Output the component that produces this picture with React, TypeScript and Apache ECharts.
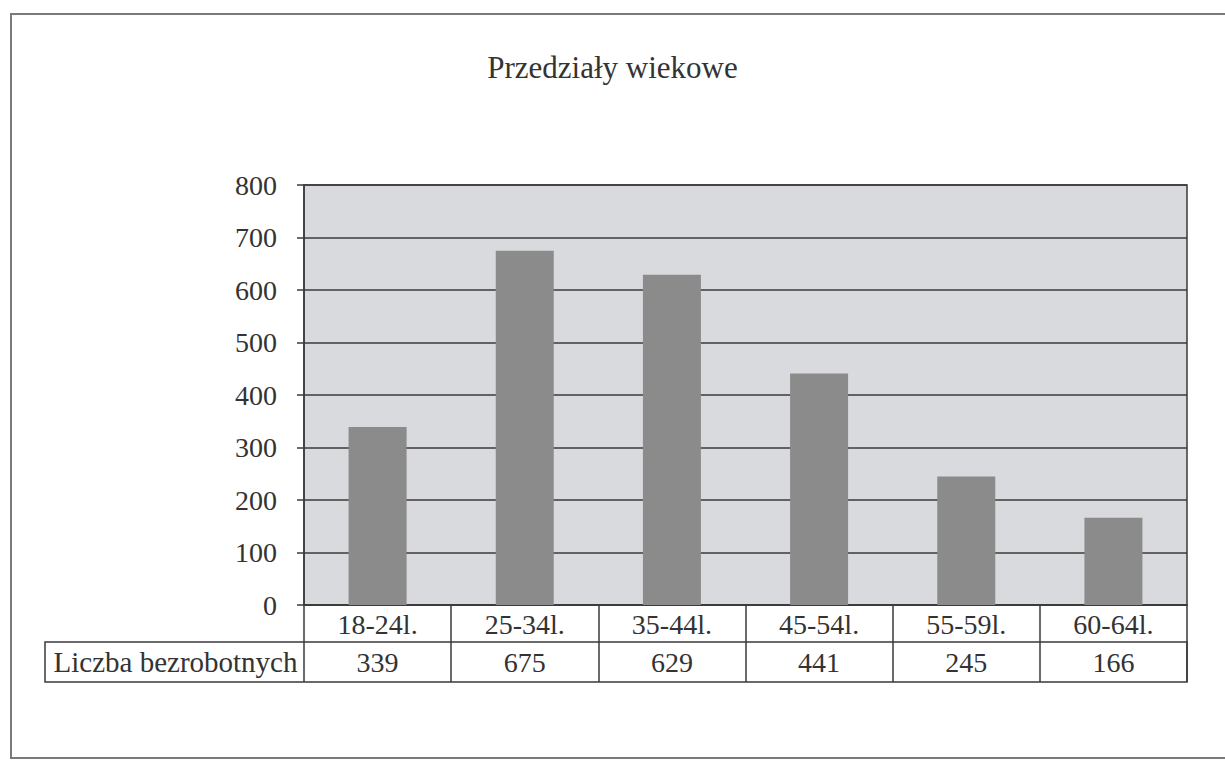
import React, { useEffect, useRef } from "react";
import * as echarts from "echarts";

const TITLE = "Przedziały wiekowe";
const SERIES_NAME = "Liczba bezrobotnych";
const CATEGORIES = ["18-24l.", "25-34l.", "35-44l.", "45-54l.", "55-59l.", "60-64l."];
const VALUES = [339, 675, 629, 441, 245, 166];
const Y_MIN = 0;
const Y_MAX = 800;
const Y_STEP = 100;

const FONT = '"Liberation Serif", "Times New Roman", "DejaVu Serif", serif';
const TEXT = "#333";
const LINE = "#3a3a3a";

export default function App() {
  const ref = useRef<HTMLDivElement>(null);
  useEffect(() => {
    if (!ref.current) return;
    const chart = echarts.init(ref.current, undefined, { renderer: "svg" });
    const gridLeft = 304;
    const gridRight = 1225 - 1187;
    const gridTop = 185;
    const gridBottom = 761 - 605;
    chart.setOption({
      animation: false,
      backgroundColor: "#ffffff",
      title: {
        text: TITLE,
        left: "center",
        top: 47,
        textStyle: { fontFamily: FONT, fontSize: 31, fontWeight: "normal", color: TEXT },
      },
      grid: {
        left: gridLeft,
        right: gridRight,
        top: gridTop,
        bottom: gridBottom,
        show: true,
        backgroundColor: "#d9dadd",
        borderColor: LINE,
        borderWidth: 1.5,
      },
      xAxis: [
        {
          type: "category",
          data: CATEGORIES,
          position: "bottom",
          boundaryGap: true,
          axisLine: { show: true, lineStyle: { color: LINE, width: 1.5 } },
          axisTick: { show: true, alignWithLabel: false, length: 77, lineStyle: { color: LINE, width: 1.5 } },
          axisLabel: {
            show: true,
            interval: 0,
            margin: 19,
            verticalAlign: "middle",
            fontFamily: FONT,
            fontSize: 28,
            color: TEXT,
          },
        },
        {
          type: "category",
          data: VALUES.map((v) => String(v)),
          position: "bottom",
          boundaryGap: true,
          axisLine: { show: false },
          axisTick: { show: false },
          axisLabel: {
            show: true,
            interval: 0,
            margin: 57,
            verticalAlign: "middle",
            fontFamily: FONT,
            fontSize: 28,
            color: TEXT,
          },
        },
      ],
      yAxis: {
        type: "value",
        min: Y_MIN,
        max: Y_MAX,
        interval: Y_STEP,
        axisLine: { show: true, lineStyle: { color: LINE, width: 1.5 } },
        axisTick: { show: true, length: 7, lineStyle: { color: LINE, width: 1.5 } },
        axisLabel: { margin: 27, fontFamily: FONT, fontSize: 28, color: TEXT },
        splitLine: { show: true, lineStyle: { color: LINE, width: 1.5 } },
      },
      series: [
        {
          name: SERIES_NAME,
          type: "bar",
          xAxisIndex: 0,
          data: VALUES,
          barWidth: 58,
          itemStyle: { color: "#8b8b8c" },
        },
      ],
      graphic: [
        {
          type: "rect",
          shape: { x: 11, y: 14, width: 1300, height: 744 },
          style: { fill: "none", stroke: "#7a7a7a", lineWidth: 2 },
          silent: true,
        },
        {
          type: "rect",
          shape: { x: 45, y: 642, width: 1187 - 45, height: 40 },
          style: { fill: "none", stroke: LINE, lineWidth: 1.5 },
          silent: true,
        },
        {
          type: "text",
          x: 175.5,
          y: 662,
          style: {
            text: SERIES_NAME,
            font: `29px ${FONT}`,
            fill: TEXT,
            align: "center",
            verticalAlign: "middle",
          },
          silent: true,
        },
      ],
    });
    return () => chart.dispose();
  }, []);
  return (
    <div
      ref={ref}
      style={{ position: "absolute", left: 0, top: 0, width: 1225, height: 761 }}
    />
  );
}
